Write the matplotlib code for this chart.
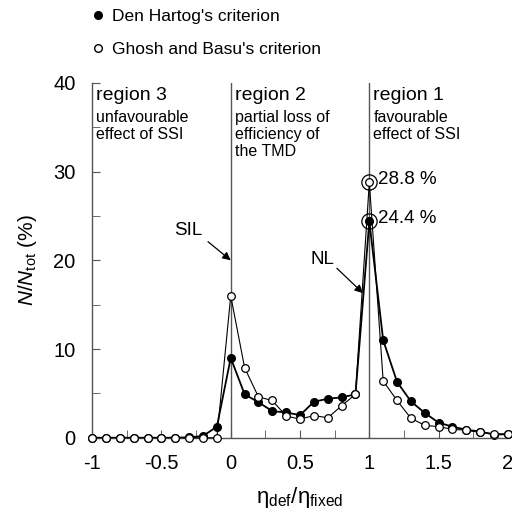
import numpy as np
import matplotlib.pyplot as plt
from matplotlib.lines import Line2D

plt.rcParams['font.family'] = ['Liberation Sans', 'DejaVu Sans']
plt.rcParams['mathtext.fontset'] = 'custom'
plt.rcParams['mathtext.rm'] = 'Liberation Sans'
plt.rcParams['mathtext.it'] = 'Liberation Sans:italic'

# eta_def / eta_fixed
ratio = [-1.0, -0.9, -0.8, -0.7, -0.6, -0.5, -0.4, -0.3, -0.2, -0.1,
         0.0, 0.1, 0.2, 0.3, 0.4, 0.5, 0.6, 0.7, 0.8, 0.9,
         1.0, 1.1, 1.2, 1.3, 1.4, 1.5, 1.6, 1.7, 1.8, 1.9, 2.0]
# N/Ntot (%)
den_hartog = [0, 0, 0, 0, 0, 0, 0, 0.05, 0.2, 1.25,
              9.0, 4.9, 4.0, 3.0, 2.85, 2.55, 4.05, 4.4, 4.55, 4.9,
              24.4, 11.0, 6.3, 4.1, 2.8, 1.7, 1.25, 0.9, 0.7, 0.35, 0.4]
ghosh_basu = [0, 0, 0, 0, 0, 0, 0, 0, 0, 0,
              16.0, 7.9, 4.6, 4.2, 2.45, 2.1, 2.5, 2.25, 3.6, 4.9,
              28.8, 6.4, 4.2, 2.2, 1.4, 1.25, 0.95, 0.85, 0.6, 0.45, 0.4]

regions = [(-1, 'region 3', 'unfavourable\neffect of SSI'),
           (0, 'region 2', 'partial loss of\nefficiency of\nthe TMD'),
           (1, 'region 1', 'favourable\neffect of SSI')]

grey = '#555555'
fig = plt.figure(figsize=(5.12, 5.15), dpi=100)
ax = fig.add_axes([0.18, 0.15, 0.812, 0.689])

for xv in [0, 1]:
    ax.axvline(xv, color=grey, lw=1.0, zorder=1)

ax.plot(ratio, ghosh_basu, '-o', color='black', lw=0.8, ms=5.5,
        mfc='white', mec='black', mew=0.9, clip_on=False, zorder=3)
ax.plot(ratio, den_hartog, '-o', color='black', lw=1.3, ms=5.5,
        mfc='black', mec='black', clip_on=False, zorder=2)

# circled peaks
pk = ratio.index(1.0)
for val in [ghosh_basu[pk], den_hartog[pk]]:
    ax.plot(1.0, val, 'o', ms=11, mfc='none', mec='black', mew=0.9, zorder=4)
    ax.text(1.06, val + 0.3, '%.1f %%' % val, fontsize=13.5, va='center', ha='left')

for xv, title, sub in regions:
    ax.text(xv + 0.03, 39.5, title, fontsize=14, va='top', ha='left')
    ax.text(xv + 0.03, 37.0, sub, fontsize=11.5, va='top', ha='left', linespacing=1.2)

arrow = dict(arrowstyle='-|>', color='black', lw=0.9, shrinkA=0, shrinkB=0,
             mutation_scale=12)
ax.text(-0.31, 23.4, 'SIL', fontsize=13.5, ha='center', va='center')
ax.annotate('', xy=(0, 20.0), xytext=(-0.164, 22.1), arrowprops=arrow)
ax.text(0.66, 20.1, 'NL', fontsize=13.5, ha='center', va='center')
ax.annotate('', xy=(0.954, 16.3), xytext=(0.766, 19.1), arrowprops=arrow)

ax.set_xlim(-1, 2)
ax.set_ylim(0, 40)
ax.set_xticks([-1, -0.5, 0, 0.5, 1, 1.5, 2])
ax.set_xticklabels(['-1', '-0.5', '0', '0.5', '1', '1.5', '2'])
ax.set_xticks(np.arange(-1, 2.01, 0.25), minor=True)
ax.set_yticks([0, 10, 20, 30, 40])
ax.set_yticks(np.arange(0, 41, 5), minor=True)
ax.tick_params(which='both', direction='in', color=grey, labelsize=14.5)
ax.tick_params(which='major', length=6)
ax.tick_params(which='minor', length=6)
ax.tick_params(axis='x', pad=12)
ax.tick_params(axis='y', pad=12)
for s in ['top', 'right']:
    ax.spines[s].set_visible(False)
for s in ['left', 'bottom']:
    ax.spines[s].set_color(grey)
    ax.spines[s].set_linewidth(1.0)

ax.set_xlabel('η$_{\\mathrm{def}}$/η$_{\\mathrm{fixed}}$', fontsize=16, labelpad=8)
ax.set_ylabel(r'$N/N_{\mathrm{tot}}$ (%)', fontsize=15, labelpad=10)

handles = [Line2D([], [], ls='none', marker='o', ms=5.5, mfc='black', mec='black'),
           Line2D([], [], ls='none', marker='o', ms=5.5, mfc='white', mec='black')]
fig.legend(handles, ["Den Hartog's criterion", "Ghosh and Basu's criterion"],
           loc='upper left', bbox_to_anchor=(0.143, 1.013), frameon=False,
           fontsize=12.5, handletextpad=0.35, labelspacing=1.0, handlelength=1.0)

plt.savefig('out.png', dpi=100)
